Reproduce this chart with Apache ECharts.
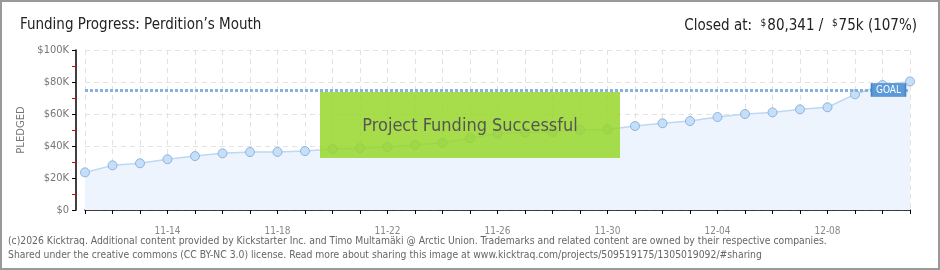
<!DOCTYPE html>
<html>
<head>
<meta charset="utf-8">
<script src="https://cdn.jsdelivr.net/npm/echarts@6/dist/echarts.min.js"></script>
<style>
html,body{margin:0;padding:0;background:#fff;}
#wrap{width:940px;height:270px;box-sizing:border-box;border:2px solid #999;position:relative;overflow:hidden;}
#chart{position:absolute;left:-2px;top:-2px;width:940px;height:270px;}
</style>
</head>
<body>
<div id="wrap"><div id="chart"></div></div>
<script>
const dates = ['11-11','11-12','11-13','11-14','11-15','11-16','11-17','11-18','11-19','11-20',
  '11-21','11-22','11-23','11-24','11-25','11-26','11-27','11-28','11-29','11-30',
  '12-01','12-02','12-03','12-04','12-05','12-06','12-07','12-08','12-09','12-10','12-11'];
const pledged = [23500,27900,29200,31700,33700,35400,36200,36300,36800,38100,
  38600,39400,40700,42100,44900,47800,48400,48800,50000,50300,
  52500,54200,55600,58100,60000,61000,62900,64200,72300,78100,80341];
const goal = 75000;
const titleText = 'Funding Progress: Perdition\u2019s Mouth';
const footer1 = '(c)2026 Kicktraq. Additional content provided by Kickstarter Inc. and Timo Multamäki @ Arctic Union. Trademarks and related content are owned by their respective companies.';
const footer2 = 'Shared under the creative commons (CC BY-NC 3.0) license. Read more about sharing this image at www.kicktraq.com/projects/509519175/1305019092/#sharing';

const headFont = "'Liberation Sans Narrow','DejaVu Sans Condensed',sans-serif";
const chart = echarts.init(document.getElementById('chart'), null, {renderer:'canvas'});
chart.setOption({
  animation:false,
  backgroundColor:'transparent',
  title:[
    {text:titleText,left:15,top:13,textStyle:{fontFamily:headFont,fontSize:15,fontWeight:'normal',color:'#222'}},
    {text:'{a|Closed at:  }{s|$}{a|80,341 /  }{s|$}{a|75k (107%)}',right:18,top:13,
     textStyle:{fontWeight:'normal',rich:{
       a:{fontFamily:headFont,fontSize:15,fontWeight:'normal',color:'#222'},
       s:{fontFamily:headFont,fontSize:10,fontWeight:'normal',color:'#222',verticalAlign:'top',padding:[0,1,6,0]}
     }}}
  ],
  grid:{left:85,right:30,top:50,bottom:60},
  xAxis:{
    type:'category',data:dates,boundaryGap:false,offset:10,
    axisLine:{lineStyle:{color:'#000',width:1.5}},
    axisTick:{interval:0,length:4,lineStyle:{color:'#000'}},
    axisLabel:{interval:function(i){return i%4===3;},color:'#888',fontSize:10,margin:6,fontFamily:'DejaVu Sans Condensed'},
    splitLine:{show:true,interval:0,lineStyle:{color:'#e2e2e2',type:[5,4]}}
  },
  yAxis:{
    type:'value',min:0,max:100000,interval:20000,offset:9,
    name:'PLEDGED',nameLocation:'middle',nameGap:50,nameRotate:90,
    nameTextStyle:{color:'#777',fontSize:10,fontFamily:'DejaVu Sans'},
    axisLine:{show:true,lineStyle:{color:'#000',width:1.5}},
    axisTick:{show:true,length:4,lineStyle:{color:'#000'}},
    minorTick:{show:true,splitNumber:2,length:4,lineStyle:{color:'#e00'}},
    axisLabel:{color:'#777',fontSize:11,margin:7,fontFamily:'DejaVu Sans Condensed',
      formatter:function(v){return v===0?'$0':'$'+(v/1000)+'K';}},
    splitLine:{lineStyle:{color:'#e2e2e2',type:[5,4]}}
  },
  series:[{
    type:'line',data:pledged,symbol:'circle',symbolSize:9,
    lineStyle:{color:'#bcd8f4',width:1.5},
    itemStyle:{color:'#c6dff8',borderColor:'#8fb3dc',borderWidth:1},
    areaStyle:{color:'#edf4fd',opacity:1},
    markLine:{
      silent:true,symbol:'none',
      lineStyle:{color:'#86b0df',type:[3,2],width:3},
      label:{show:false},
      data:[{yAxis:goal}]
    },
    markPoint:{
      silent:true,symbol:'rect',symbolSize:[34,13],symbolOffset:[6,0],
      itemStyle:{color:'#5b9ad8',borderColor:'#4a84c0',borderWidth:1},
      label:{show:true,formatter:'GOAL',color:'#fff',fontSize:10,fontFamily:'DejaVu Sans Condensed'},
      data:[{coord:['12-10',goal]}]
    },
    z:2
  }],
  graphic:[
    {type:'rect',left:320,top:92,shape:{width:300,height:66},style:{fill:'rgba(150,215,40,0.84)'},z:10},
    {type:'text',x:470,y:126,z:11,style:{text:'Project Funding Successful',x:0,y:0,textAlign:'center',textVerticalAlign:'middle',
      font:"18px "+headFont,fill:'#555',textShadowColor:'#fff',textShadowOffsetX:1,textShadowOffsetY:1,textShadowBlur:0}},
    {type:'text',left:8,top:236,style:{text:footer1,font:"10.3px 'Liberation Sans Narrow','DejaVu Sans Condensed',sans-serif",fill:'#666'}},
    {type:'text',left:8,top:250,style:{text:footer2,font:"10.3px 'Liberation Sans Narrow','DejaVu Sans Condensed',sans-serif",fill:'#666'}}
  ]
});
</script>
</body>
</html>
